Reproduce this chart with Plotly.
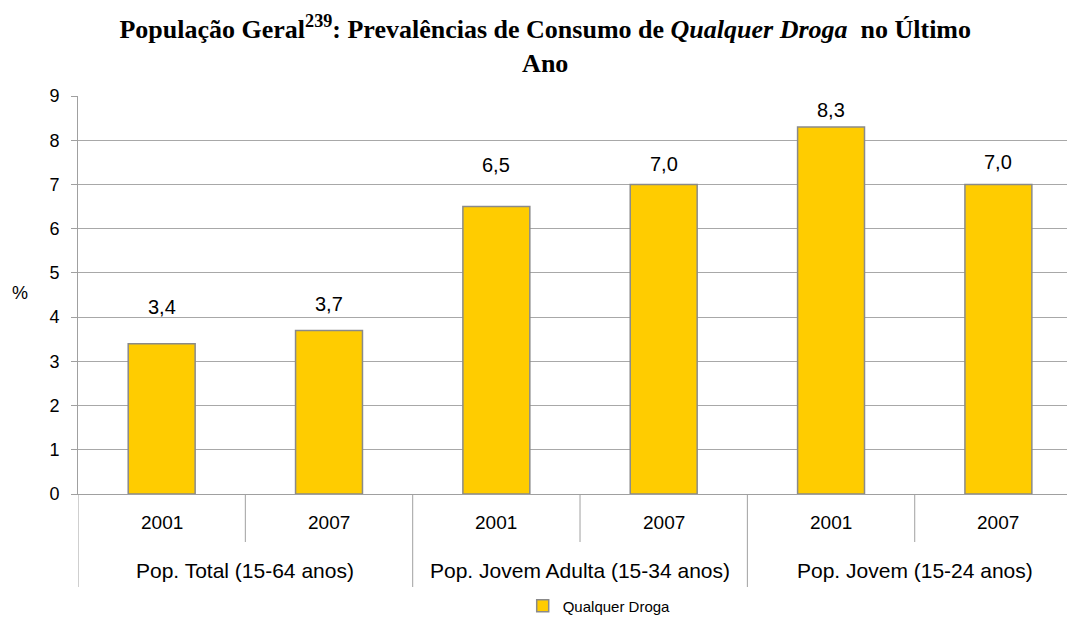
import plotly.graph_objects as go

groups = ["Pop. Total (15-64 anos)", "Pop. Jovem Adulta (15-34 anos)", "Pop. Jovem (15-24 anos)"]
years = ["2001", "2007"]
values = [3.4, 3.7, 6.5, 7.0, 8.3, 7.0]
value_labels = ["3,4", "3,7", "6,5", "7,0", "8,3", "7,0"]
series_name = "Qualquer Droga"
y_ticks = [0, 1, 2, 3, 4, 5, 6, 7, 8, 9]

# style: vertical offset of each data label above its bar (in axis units)
label_offsets = [0.83, 0.60, 0.94, 0.47, 0.39, 0.50]

cats = [f"{g} | {y}" for g in groups for y in years]
year_list = [y for g in groups for y in years]

W, H = 1067, 618
ML, MT, MB = 78, 96, 124
H_PLOT = H - MT - MB
W_PLOT = W - ML

def py(px):
    return -px / H_PLOT

SANS = "Liberation Sans, Arial"

fig = go.Figure()
fig.add_trace(go.Bar(
    x=cats, y=values, name=series_name, width=0.4,
    marker=dict(color="#FFCC00", line=dict(color="#8A8A8A", width=1.5)),
    showlegend=True,
))

ann = []
for i, (v, lab, off) in enumerate(zip(values, value_labels, label_offsets)):
    ann.append(dict(x=i, y=v + off, xref="x", yref="y", text=lab, showarrow=False,
                    font=dict(family=SANS, size=20, color="#000"), yanchor="middle"))
for i, yr in enumerate(year_list):
    ann.append(dict(x=i, y=py(28), xref="x", yref="paper", text=yr, showarrow=False,
                    font=dict(family=SANS, size=19, color="#000"), yanchor="middle"))
for j, g in enumerate(groups):
    ann.append(dict(x=2 * j + 0.5, y=py(76), xref="x", yref="paper", text=g, showarrow=False,
                    font=dict(family=SANS, size=21, color="#000"), yanchor="middle"))
ann.append(dict(x=-58 / W_PLOT, y=(494 - 293) / H_PLOT, xref="paper", yref="paper", text="%",
                xanchor="center", yanchor="middle",
                showarrow=False, font=dict(family=SANS, size=18, color="#000")))

shapes = []
for k in range(3):
    shapes.append(dict(type="line", xref="x", yref="paper", x0=2 * k + 0.5, x1=2 * k + 0.5,
                       y0=0, y1=py(48), line=dict(color="#A0A0A0", width=1)))
    shapes.append(dict(type="line", xref="x", yref="paper", x0=2 * k - 0.5, x1=2 * k - 0.5,
                       y0=0, y1=py(93), line=dict(color="#A0A0A0", width=1)))

fig.update_layout(
    width=W, height=H,
    paper_bgcolor="white", plot_bgcolor="white",
    margin=dict(l=ML, r=0, t=MT, b=MB, autoexpand=False),
    title=dict(
        text="<b>População Geral<sup>239</sup>: Prevalências de Consumo de <i>Qualquer Droga</i>  no Último<br>Ano</b>",
        x=0.511, xanchor="center", y=1 - 38 / H, yanchor="top",
        font=dict(family="Liberation Serif, Times New Roman", size=26, color="#000"),
    ),
    font=dict(family=SANS, size=15, color="#000"),
    xaxis=dict(range=[-0.5, 5.41], showticklabels=False, showgrid=False, ticks="",
               showline=True, linecolor="#A0A0A0", linewidth=1, zeroline=False, automargin=False),
    yaxis=dict(range=[0, 9], tickvals=y_ticks, showgrid=True, gridcolor="#A8A8A8", gridwidth=1,
               showline=True, linecolor="#A0A0A0", linewidth=1, ticks="outside", ticklen=6,
               tickcolor="#A0A0A0", zeroline=False, ticklabelstandoff=8, automargin=False,
               tickfont=dict(family=SANS, size=18, color="#000")),
    legend=dict(orientation="h", x=0.527, xanchor="center", yref="container",
                y=(H - 606) / H, yanchor="middle",
                font=dict(family=SANS, size=15, color="#000")),
    annotations=ann, shapes=shapes,
)
fig.write_html("out.html", config={"displayModeBar": False},
               post_script="document.body.style.margin='0';document.body.style.overflow='hidden';")
